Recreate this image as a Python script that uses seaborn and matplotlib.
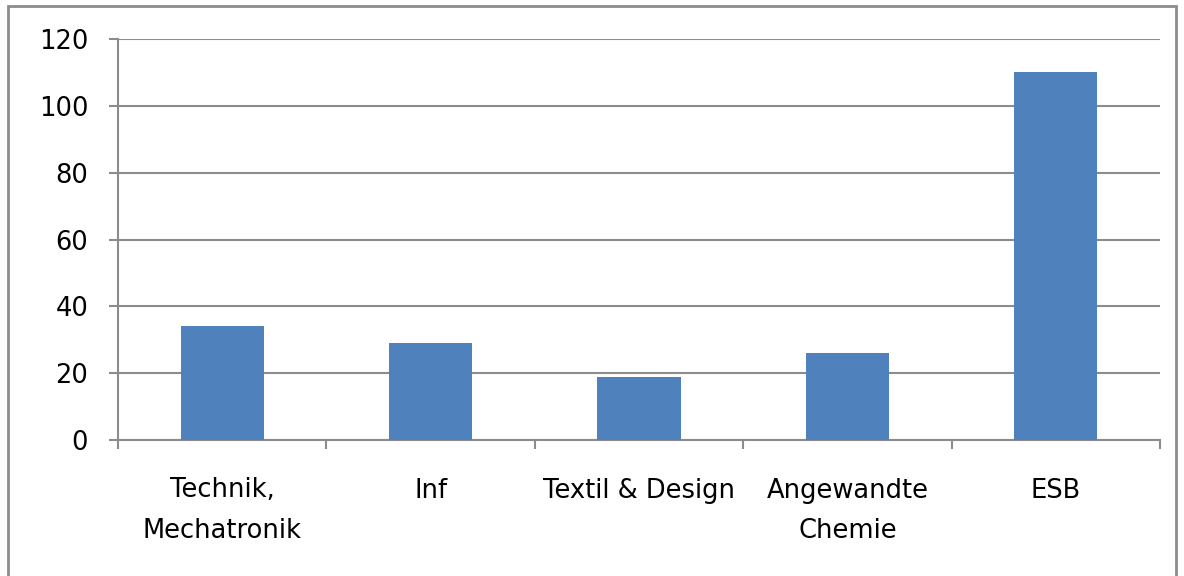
import matplotlib
matplotlib.use("Agg")
import matplotlib.pyplot as plt
import seaborn as sns
import pandas as pd
from matplotlib.patches import Rectangle

categories = ["Technik,\nMechatronik", "Inf", "Textil & Design", "Angewandte\nChemie", "ESB"]
values = [34, 29, 19, 26, 110]
yticks = [0, 20, 40, 60, 80, 100, 120]

sns.set_theme(style="white")
plt.rcParams['font.family'] = ['DejaVu Sans']

df = pd.DataFrame({"cat": categories, "val": values})

fig = plt.figure(figsize=(11.84, 5.76), dpi=100)
ax = fig.add_axes([118/1184, 1 - 440/576, (1160-118)/1184, (440-39)/576])

grid_c = "#8c8c8c"
sns.barplot(data=df, x="cat", y="val", color="#4F81BD", saturation=1, width=0.4,
            linewidth=0, ax=ax, zorder=3)

ax.set_xlim(-0.5, 4.5)
ax.set_ylim(0, 120)
ax.set_yticks(yticks)
ax.set_yticklabels([str(v) for v in yticks], fontsize=18.5, color="black")
ax.yaxis.grid(True, color=grid_c, linewidth=1.5, zorder=0)
ax.set_axisbelow(True)
ax.tick_params(axis="y", length=6.5, width=1.5, color=grid_c, pad=15, left=True)

ax.set_xticks(range(len(categories)))
ax.set_xticklabels(categories, fontsize=18.5, color="black", linespacing=1.75)
ax.tick_params(axis="x", which="major", length=0, pad=27)
ax.set_xticks([i - 0.5 for i in range(len(categories) + 1)], minor=True)
ax.tick_params(axis="x", which="minor", length=6.5, width=1.5, color=grid_c, bottom=True)

ax.set_xlabel("")
ax.set_ylabel("")
for s in ["top", "right"]:
    ax.spines[s].set_visible(False)
for s in ["left", "bottom"]:
    ax.spines[s].set_color(grid_c)
    ax.spines[s].set_linewidth(1.5)

fig.patches.append(Rectangle((8/1184, -0.05), (1176-8)/1184, 1.05 - 6/576,
                             transform=fig.transFigure, fill=False,
                             edgecolor="#8c8c8c", linewidth=2))

fig.savefig("out.png", dpi=100)
